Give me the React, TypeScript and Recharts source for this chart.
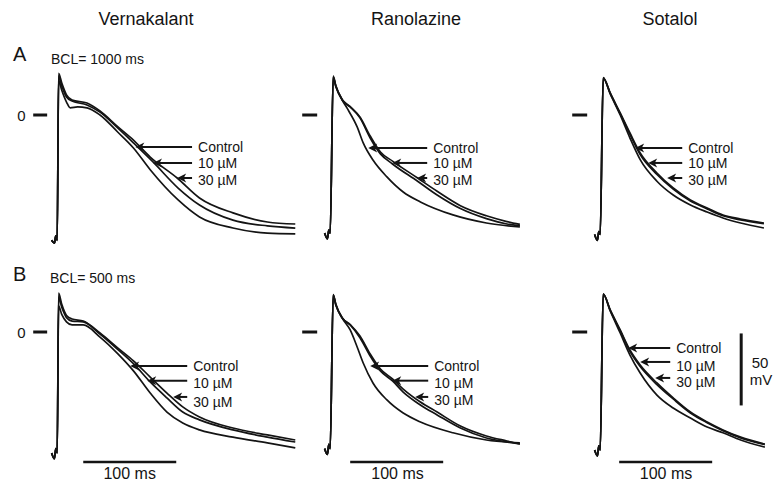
import React from 'react';
import { LineChart, Line, XAxis, YAxis, ReferenceLine } from 'recharts';

type Pair = [number, number];

// ---------- data (t in ms from upstroke, V in mV) ----------
const drugs = ['Vernakalant', 'Ranolazine', 'Sotalol'];
const rowLetters = ['A', 'B'];
const rowBcl = ['BCL= 1000 ms', 'BCL= 500 ms'];
const traceLabels = ['Control', '10 \u00b5M', '30 \u00b5M'];
const scaleTimeLabel = '100 ms';
const scaleVoltLabel = ['50', 'mV'];

const vernA_ctrl: Pair[] = [[-6,-87],[-3,-89],[-1.5,-84],[0,-87],[1.5,24],[5,17],[10,9],[14,5],[22,5.6],[32,5],[46,0],[65,-11.8],[82,-22.9],[100,-38],[130,-59],[153,-70.8],[189,-78.5],[226,-82],[256,-82.5]];
const vernA_10: Pair[] = [[-6,-87],[-3,-89],[-1.5,-84],[0,-87],[1.5,27],[5,20],[10,12.5],[16,9.7],[32,7],[46,2],[65,-9],[82,-19.4],[103,-32.6],[130,-50.7],[153,-62.5],[189,-73],[226,-77],[256,-78.5]];
const vernA_30: Pair[] = [[-6,-87],[-3,-89],[-1.5,-84],[0,-87],[1.5,29],[5,22],[10,14],[16,10.4],[32,8.3],[46,2.8],[65,-8],[82,-17.4],[100,-29.2],[129,-43.75],[153,-57.6],[189,-68],[226,-74.3],[256,-75.7]];

const ranoA_ctrl: Pair[] = [[-6,-82],[-3,-86],[-1.5,-80],[0,-82],[3.2,26.4],[6,20],[12.9,10.4],[18,4.9],[29,-8.3],[35.5,-19.4],[46,-31.3],[61,-43],[78.5,-53.5],[97,-60.4],[132,-69.4],[168,-75],[204,-77.8]];
const ranoA_10: Pair[] = [[-6,-82],[-3,-86],[-1.5,-80],[0,-82],[3.2,26.4],[6,20],[12.9,10.4],[21.5,5.6],[32,-2],[43,-16],[54,-27],[67,-34],[94,-46],[115,-55.6],[140,-65],[168,-72],[190,-75.7],[204,-77]];
const ranoA_30: Pair[] = [[-6,-82],[-3,-86],[-1.5,-80],[0,-82],[3.2,27],[6,20.5],[12.9,10.8],[21.5,5.8],[32,-1.4],[43,-14.6],[54,-25.7],[67,-32],[94,-43.8],[115,-53],[140,-63],[168,-70],[190,-74],[204,-76]];

const sotaA_ctrl: Pair[] = [[-6,-83],[-3,-87],[-1.5,-81],[0,-83],[3.2,25.7],[10.8,14.6],[21.5,0],[32,-16],[43,-31],[61,-46],[78.5,-55.6],[97,-62.5],[115,-67.4],[132,-71.5],[151,-75],[176,-78.5]];
const sotaA_10: Pair[] = [[-6,-83],[-3,-87],[-1.5,-81],[0,-83],[3.2,25.7],[10.8,15],[21.5,1],[32,-13.5],[43,-27.5],[61,-41.3],[78.5,-51.5],[97,-59.8],[115,-65.2],[132,-70],[151,-72.8],[176,-75.5]];
const sotaA_30: Pair[] = [[-6,-83],[-3,-87],[-1.5,-81],[0,-83],[3.2,26],[10.8,15.3],[21.5,1.4],[32,-12.5],[43,-26.4],[61,-40.3],[78.5,-50.7],[97,-59],[115,-64.6],[132,-69.4],[151,-72.2],[176,-75]];

const vernB_ctrl: Pair[] = [[-6,-84],[-3,-88],[-1.5,-81],[0,-84],[1.5,18],[5,12],[10,7],[16,4.9],[28,4.9],[46,-3.5],[65,-15],[82,-27],[100,-42.4],[118,-55.6],[135,-63.2],[153,-68],[189,-73],[226,-77],[256,-80.5]];
const vernB_10: Pair[] = [[-6,-84],[-3,-88],[-1.5,-81],[0,-84],[1.5,24],[5,17],[10,10],[16,7.6],[28,7],[46,-1.4],[65,-12],[82,-22],[100,-34.7],[118,-45.8],[135,-55.6],[153,-61],[189,-68],[226,-73],[256,-76.4]];
const vernB_30: Pair[] = [[-6,-84],[-3,-88],[-1.5,-81],[0,-84],[1.5,27],[5,19],[10,11.5],[16,9],[28,7.6],[46,-0.7],[65,-11],[82,-20],[100,-31.3],[118,-42.4],[135,-52],[153,-59],[189,-66.7],[226,-71.5],[256,-75]];

const ranoB_ctrl: Pair[] = [[-6,-81],[-3,-85],[-1.5,-78],[0,-81],[3.2,25.7],[6,19],[12.9,9.7],[21.5,1.4],[29,-10.4],[35.5,-21.5],[46,-35.4],[61,-47.2],[78.5,-56.3],[97,-62.5],[132,-70],[168,-75],[204,-77]];
const ranoB_10: Pair[] = [[-6,-81],[-3,-85],[-1.5,-78],[0,-81],[3.2,25.7],[6,19],[12.9,9.7],[21.5,4.9],[32,-4],[43,-16.7],[54,-27],[67,-34],[78.5,-41.7],[97,-50.7],[115,-57.6],[140,-66.7],[168,-73.6],[190,-76.4],[204,-77.8]];
const ranoB_30: Pair[] = [[-6,-81],[-3,-85],[-1.5,-78],[0,-81],[3.2,26],[6,19.5],[12.9,10],[21.5,5.2],[32,-2.8],[43,-15.3],[54,-25.7],[67,-32.6],[78.5,-39.6],[97,-48.6],[115,-55.6],[140,-65.3],[168,-72.2],[190,-75.7],[204,-77.8]];

const sotaB_ctrl: Pair[] = [[-6,-82],[-3,-86],[-1.5,-79],[0,-82],[3.2,26.4],[10.8,14.6],[21.5,-0.7],[32,-16],[43,-28.5],[61,-43.8],[78.5,-52.8],[97,-59.7],[115,-66],[132,-70],[151,-75],[177,-80]];
const sotaB_10: Pair[] = [[-6,-82],[-3,-86],[-1.5,-79],[0,-82],[3.2,26.4],[10.8,15],[21.5,1],[32,-13.5],[43,-24],[61,-36.5],[78.5,-46.5],[97,-56.2],[115,-63],[132,-68.5],[151,-73.5],[177,-78.2]];
const sotaB_30: Pair[] = [[-6,-82],[-3,-86],[-1.5,-79],[0,-82],[3.2,26.4],[10.8,15.3],[21.5,1.4],[32,-12.5],[43,-23],[61,-35.4],[78.5,-45.8],[97,-55.6],[115,-62.5],[132,-68],[151,-73],[177,-77.8]];

// arrow tips [t, V] per trace, common tail t, and label offsets (mV, below the arrow)
const arrowsA: { tips: Pair[]; tail: number; labelDv: number[] }[] = [
  { tips: [[84,-22.2],[103,-33.3],[129,-43.75]], tail: 145, labelDv: [0, 0, 1.4] },
  { tips: [[40.9,-22.9],[66.7,-33.3],[93.5,-43.75]], tail: 104.3, labelDv: [0, 0, 1.4] },
  { tips: [[37.6,-22.9],[51.6,-33.3],[72,-43.75]], tail: 88.2, labelDv: [0, 0, 1.4] },
];
const arrowsB: { tips: Pair[]; tail: number; labelDv: number[] }[] = [
  { tips: [[78.5,-23.6],[96.8,-33.8],[124.7,-45.1]], tail: 139.8, labelDv: [0, 1.4, 3.2] },
  { tips: [[43,-23.6],[66.7,-33.8],[91.4,-45.1]], tail: 105.4, labelDv: [0, 1.7, 2.2] },
  { tips: [[30.1,-11.1],[43,-20.8],[59.1,-31.9]], tail: 75.3, labelDv: [0, 2.5, 2.5] },
];
// zero-marker segments [t1, t2] per column
const zeroMarks: Pair[] = [[-25.8,-10.8],[-30.1,-14],[-30.1,-14]];
// 100 ms scale bars [t1, t2] and their V level, per column
const timeBars: Pair[] = [[28,128],[21.5,121.5],[20.4,120.4]];
const timeBarV = -90.3;
// 50 mV bar: t and V range
const voltBarT = 151.6;
const voltBarV: Pair = [-1, -51];

// ---------- layout ----------
const PX_MS = 0.93;
const PX_MV = 1.44;
const T_MIN = -40;
const V_DOMAIN: Pair = [-100, 50];
const CH_H = (V_DOMAIN[1] - V_DOMAIN[0]) * PX_MV;
const cols = [
  { x0: 57, tmax: 260 },
  { x0: 330, tmax: 208 },
  { x0: 600, tmax: 185 },
];
const rowZeroY = [115, 332];
const FONT = '"Liberation Sans", Arial, Helvetica, sans-serif';
const INK = '#141414';

const traces: Pair[][][][] = [
  [[vernA_ctrl, vernA_10, vernA_30], [ranoA_ctrl, ranoA_10, ranoA_30], [sotaA_ctrl, sotaA_10, sotaA_30]],
  [[vernB_ctrl, vernB_10, vernB_30], [ranoB_ctrl, ranoB_10, ranoB_30], [sotaB_ctrl, sotaB_10, sotaB_30]],
];

const arrowShape = (label: string, dy: number) => (props: any) => {
  const { x1, y1, x2, y2 } = props;
  return (
    <g>
      <line x1={x1 + 5} y1={y1} x2={x2} y2={y2} stroke={INK} strokeWidth={2} />
      <path d={`M${x1},${y1} L${x1 + 9},${y1 - 4.5} L${x1 + 6.5},${y1} L${x1 + 9},${y1 + 4.5} Z`} fill={INK} />
      <text x={x2 + 6} y={y2 + dy} dominantBaseline="central" fontSize={14} fontFamily={FONT} fill={INK}>
        {label}
      </text>
    </g>
  );
};

const Panel = ({ row, col }: { row: number; col: number }) => {
  const c = cols[col];
  const width = (c.tmax - T_MIN) * PX_MS;
  const left = c.x0 + T_MIN * PX_MS;
  const top = rowZeroY[row] - V_DOMAIN[1] * PX_MV;
  const arrows = (row === 0 ? arrowsA : arrowsB)[col];
  return (
    <div style={{ position: 'absolute', left, top }}>
      <LineChart width={width} height={CH_H} margin={{ top: 0, right: 0, bottom: 0, left: 0 }}>
        <XAxis type="number" dataKey="t" domain={[T_MIN, c.tmax]} allowDataOverflow hide />
        <YAxis type="number" domain={V_DOMAIN} allowDataOverflow hide />
        {traces[row][col].map((tr, i) => (
          <Line
            key={i}
            data={tr.map(([t, v]) => ({ t, v }))}
            dataKey="v"
            type="monotone"
            dot={false}
            activeDot={false}
            stroke={INK}
            strokeWidth={1.7}
            isAnimationActive={false}
          />
        ))}
        <ReferenceLine
          segment={[{ x: zeroMarks[col][0], y: 0 }, { x: zeroMarks[col][1], y: 0 }]}
          stroke={INK}
          strokeWidth={3}
          ifOverflow="visible"
        />
        {arrows.tips.map((tip, i) => (
          <ReferenceLine
            key={'a' + i}
            segment={[{ x: tip[0], y: tip[1] }, { x: arrows.tail, y: tip[1] }]}
            ifOverflow="visible"
            shape={arrowShape(traceLabels[i], arrows.labelDv[i] * PX_MV)}
          />
        ))}
        {row === 1 && (
          <ReferenceLine
            segment={[{ x: timeBars[col][0], y: timeBarV }, { x: timeBars[col][1], y: timeBarV }]}
            stroke={INK}
            strokeWidth={2.5}
            ifOverflow="visible"
          />
        )}
        {row === 1 && col === 2 && (
          <ReferenceLine
            segment={[{ x: voltBarT, y: voltBarV[0] }, { x: voltBarT, y: voltBarV[1] }]}
            stroke={INK}
            strokeWidth={3}
            ifOverflow="visible"
          />
        )}
      </LineChart>
    </div>
  );
};

const T = ({ x, y, size, children, anchor = 'center' }: any) => (
  <div
    style={{
      position: 'absolute',
      left: x,
      top: y,
      transform: anchor === 'center' ? 'translate(-50%,-50%)' : 'translate(0,-50%)',
      fontFamily: FONT,
      fontSize: size,
      color: INK,
      whiteSpace: 'nowrap',
      lineHeight: 1,
    }}
  >
    {children}
  </div>
);

export default function App() {
  return (
    <div style={{ position: 'absolute', left: 0, top: 0, width: 776, height: 485, background: '#fff', overflow: 'hidden' }}>
      <T x={146} y={18.5} size={18}>{drugs[0]}</T>
      <T x={416} y={18.5} size={18}>{drugs[1]}</T>
      <T x={670} y={18.5} size={18}>{drugs[2]}</T>
      <T x={13} y={54} size={20} anchor="left">{rowLetters[0]}</T>
      <T x={51} y={59} size={14} anchor="left">{rowBcl[0]}</T>
      <T x={13} y={274} size={20} anchor="left">{rowLetters[1]}</T>
      <T x={50} y={277.5} size={14} anchor="left">{rowBcl[1]}</T>
      <T x={21.5} y={115} size={15}>0</T>
      <T x={21.5} y={332} size={15}>0</T>
      <T x={129.7} y={474} size={16}>{scaleTimeLabel}</T>
      <T x={397.5} y={474} size={16}>{scaleTimeLabel}</T>
      <T x={666} y={474} size={16}>{scaleTimeLabel}</T>
      <T x={760} y={361.5} size={15}>{scaleVoltLabel[0]}</T>
      <T x={761} y={379} size={15}>{scaleVoltLabel[1]}</T>
      {[0, 1].map((r) => [0, 1, 2].map((c) => <Panel key={`${r}-${c}`} row={r} col={c} />))}
    </div>
  );
}
